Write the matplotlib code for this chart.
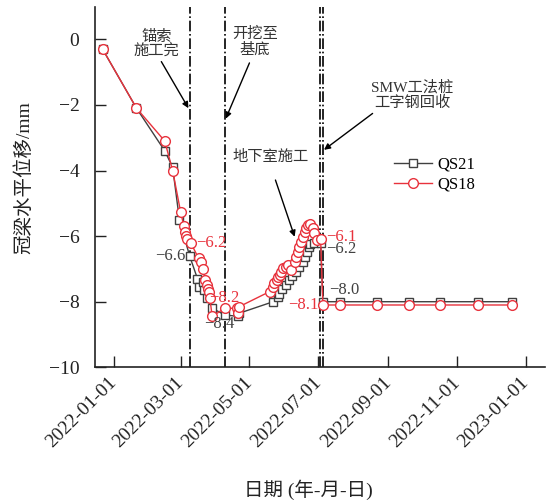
import matplotlib
matplotlib.use("Agg")
import matplotlib.pyplot as plt
import matplotlib.dates as mdates
import pandas as pd

plt.rcParams['font.family'] = ['Liberation Serif', 'Noto Sans CJK SC']
plt.rcParams['axes.unicode_minus'] = True

# monitoring records, crown beam horizontal displacement (mm)
qs21_dates = ['2021-12-22', '2022-01-21', '2022-02-15', '2022-02-22', '2022-02-28',
              '2022-03-09', '2022-03-16', '2022-03-17', '2022-03-21', '2022-03-22',
              '2022-03-24', '2022-03-29', '2022-04-09', '2022-04-21', '2022-04-22',
              '2022-05-22', '2022-05-26', '2022-05-27', '2022-05-30', '2022-06-02',
              '2022-06-05', '2022-06-08', '2022-06-11', '2022-06-14', '2022-06-17',
              '2022-06-19', '2022-06-21', '2022-06-23', '2022-06-24', '2022-06-27',
              '2022-07-03', '2022-07-05', '2022-07-20', '2022-08-22', '2022-09-19',
              '2022-10-17', '2022-11-19', '2022-12-19']
qs21_vals = [-0.3, -2.1, -3.4, -3.9, -5.5,
             -6.6, -7.3, -7.55, -7.4, -7.65,
             -7.9, -8.2, -8.4, -8.45, -8.35,
             -8.0, -7.85, -7.75, -7.62, -7.49,
             -7.34, -7.22, -7.08, -6.93, -6.8,
             -6.63, -6.48, -6.32, -6.25, -6.2,
             -6.2, -8.0, -8.0, -8.0, -8.0,
             -8.0, -8.0, -8.0]

qs18_dates = ['2021-12-22', '2022-01-21', '2022-02-15', '2022-02-22', '2022-03-01',
              '2022-03-04', '2022-03-05', '2022-03-06', '2022-03-07', '2022-03-10',
              '2022-03-17', '2022-03-19', '2022-03-21', '2022-03-23', '2022-03-24',
              '2022-03-25', '2022-03-26', '2022-03-27', '2022-03-29', '2022-04-09',
              '2022-04-20', '2022-04-21', '2022-04-22', '2022-05-19', '2022-05-22',
              '2022-05-23', '2022-05-25', '2022-05-26', '2022-05-28', '2022-05-29',
              '2022-05-31', '2022-06-02', '2022-06-04', '2022-06-07', '2022-06-10',
              '2022-06-11', '2022-06-13', '2022-06-14', '2022-06-16', '2022-06-17',
              '2022-06-19', '2022-06-20', '2022-06-22', '2022-06-24', '2022-06-26',
              '2022-06-27', '2022-06-30', '2022-07-03', '2022-07-05', '2022-07-20',
              '2022-08-22', '2022-09-19', '2022-10-17', '2022-11-19', '2022-12-19']
qs18_vals = [-0.3, -2.1, -3.1, -4.0, -5.25,
             -5.7, -5.87, -6.0, -6.1, -6.2,
             -6.68, -6.8, -7.0, -7.35, -7.5,
             -7.6, -7.7, -7.9, -8.45, -8.2,
             -8.2, -8.33, -8.15, -7.69, -7.54,
             -7.44, -7.34, -7.24, -7.19, -7.08,
             -6.98, -6.93, -6.88, -7.03, -6.78,
             -6.63, -6.48, -6.32, -6.17, -6.02,
             -5.87, -5.76, -5.66, -5.63, -5.76,
             -5.91, -6.12, -6.1, -8.1, -8.1,
             -8.1, -8.1, -8.1, -8.1, -8.1]

# construction stages
stage_dates = ['2022-03-09', '2022-04-09', '2022-07-02', '2022-07-05']

# value labels: (series, date, text, x offset px, y offset px, ha)
value_labels = [
    ('QS18', '2022-03-10', '−6.2', 5, 0, 'left'),
    ('QS21', '2022-03-09', '−6.6', -4, 0, 'right'),
    ('QS18', '2022-04-09', '−8.2', 0, 10, 'center'),
    ('QS21', '2022-04-09', '−8.4', -5, -9, 'center'),
    ('QS18', '2022-07-03', '−6.1', 5, 2, 'left'),
    ('QS21', '2022-07-03', '−6.2', 5, -6, 'left'),
    ('QS21', '2022-07-05', '−8.0', 6, 12, 'left'),
    ('QS18', '2022-07-05', '−8.1', -4, 0, 'right'),
]

# stage notes: text, text position, arrow start, arrow tip
notes = [
    ('锚索\n施工完', ('2022-02-08', -0.15), ('2022-02-12', -0.68), ('2022-03-08', -2.1)),
    ('开挖至\n基底', ('2022-05-06', -0.08), ('2022-05-01', -0.72), ('2022-04-10', -2.42)),
    ('地下室施工', ('2022-05-20', -3.59), ('2022-05-24', -4.29), ('2022-06-10', -6.02)),
    ('SMW工法桩\n工字钢回收', ('2022-09-22', -1.70), ('2022-08-18', -2.26), ('2022-07-06', -3.37)),
]

c21 = '#404040'
c18 = '#e8323c'

series = {
    'QS21': (pd.to_datetime(qs21_dates), qs21_vals, c21),
    'QS18': (pd.to_datetime(qs18_dates), qs18_vals, c18),
}

fig = plt.figure(figsize=(5.46, 5.04), dpi=100)
ax = fig.add_axes([0.1734, 0.2712, 0.8256, 0.7159])

for d in stage_dates:
    ax.axvline(pd.Timestamp(d), color='black', ls='-.', lw=1.2, zorder=1)

x, y, c = series['QS21']
ax.plot(x, y, color=c, lw=1, marker='s', ms=5.8, mfc='white', mec=c, mew=1,
        label='QS21', zorder=3)
x, y, c = series['QS18']
ax.plot(x, y, color=c, lw=1, marker='o', ms=7, mfc='white', mec=c, mew=1,
        label='QS18', zorder=4)

for name, d, txt, dx, dy, ha in value_labels:
    xs, ys, c = series[name]
    i = list(xs).index(pd.Timestamp(d))
    ax.annotate(txt, (xs[i], ys[i]), xytext=(dx, dy), textcoords='offset pixels',
                ha=ha, va='center', fontsize=12, color=c, zorder=5)

for txt, tpos, a0, a1 in notes:
    ax.text(pd.Timestamp(tpos[0]), tpos[1], txt, ha='center', va='center',
            fontsize=11, color='#333333', linespacing=1.1)
    ax.annotate('', xy=(pd.Timestamp(a1[0]), a1[1]),
                xytext=(pd.Timestamp(a0[0]), a0[1]),
                arrowprops=dict(arrowstyle='-|>', color='black', lw=1,
                                mutation_scale=9, shrinkA=0, shrinkB=0))

ax.set_xlim(pd.Timestamp('2021-12-15'), pd.Timestamp('2023-01-18'))
ax.set_ylim(-10, 1)
ax.set_yticks([0, -2, -4, -6, -8, -10])
ax.xaxis.set_major_locator(mdates.MonthLocator(bymonth=[1, 3, 5, 7, 9, 11]))
ax.xaxis.set_major_formatter(mdates.DateFormatter('%Y-%m-%d'))
for lab in ax.get_xticklabels():
    lab.set_rotation(45)
    lab.set_ha('right')
    lab.set_va('center')
    lab.set_rotation_mode('anchor')

ax.tick_params(direction='in', length=8, width=1, labelsize=14, colors='#222222')
ax.tick_params(axis='x', pad=9)
ax.tick_params(axis='y', pad=11)
for s in ['top', 'right']:
    ax.spines[s].set_visible(False)
for s in ['left', 'bottom']:
    ax.spines[s].set_linewidth(1.2)
    ax.spines[s].set_color('#222222')

ax.set_ylabel('冠梁水平位移/mm', fontsize=14, color='#222222')
ax.yaxis.set_label_coords(-0.137, 0.525)
ax.set_xlabel('日期 (年-月-日)', fontsize=14, color='#222222')
ax.xaxis.set_label_coords(0.473, -0.312)

ax.legend(loc='upper left', bbox_to_anchor=(0.664, 0.584), frameon=False,
          fontsize=12, handlelength=2.3, handletextpad=0.3, labelspacing=0.25,
          borderpad=0, borderaxespad=0)

fig.savefig('out.png', dpi=100)
